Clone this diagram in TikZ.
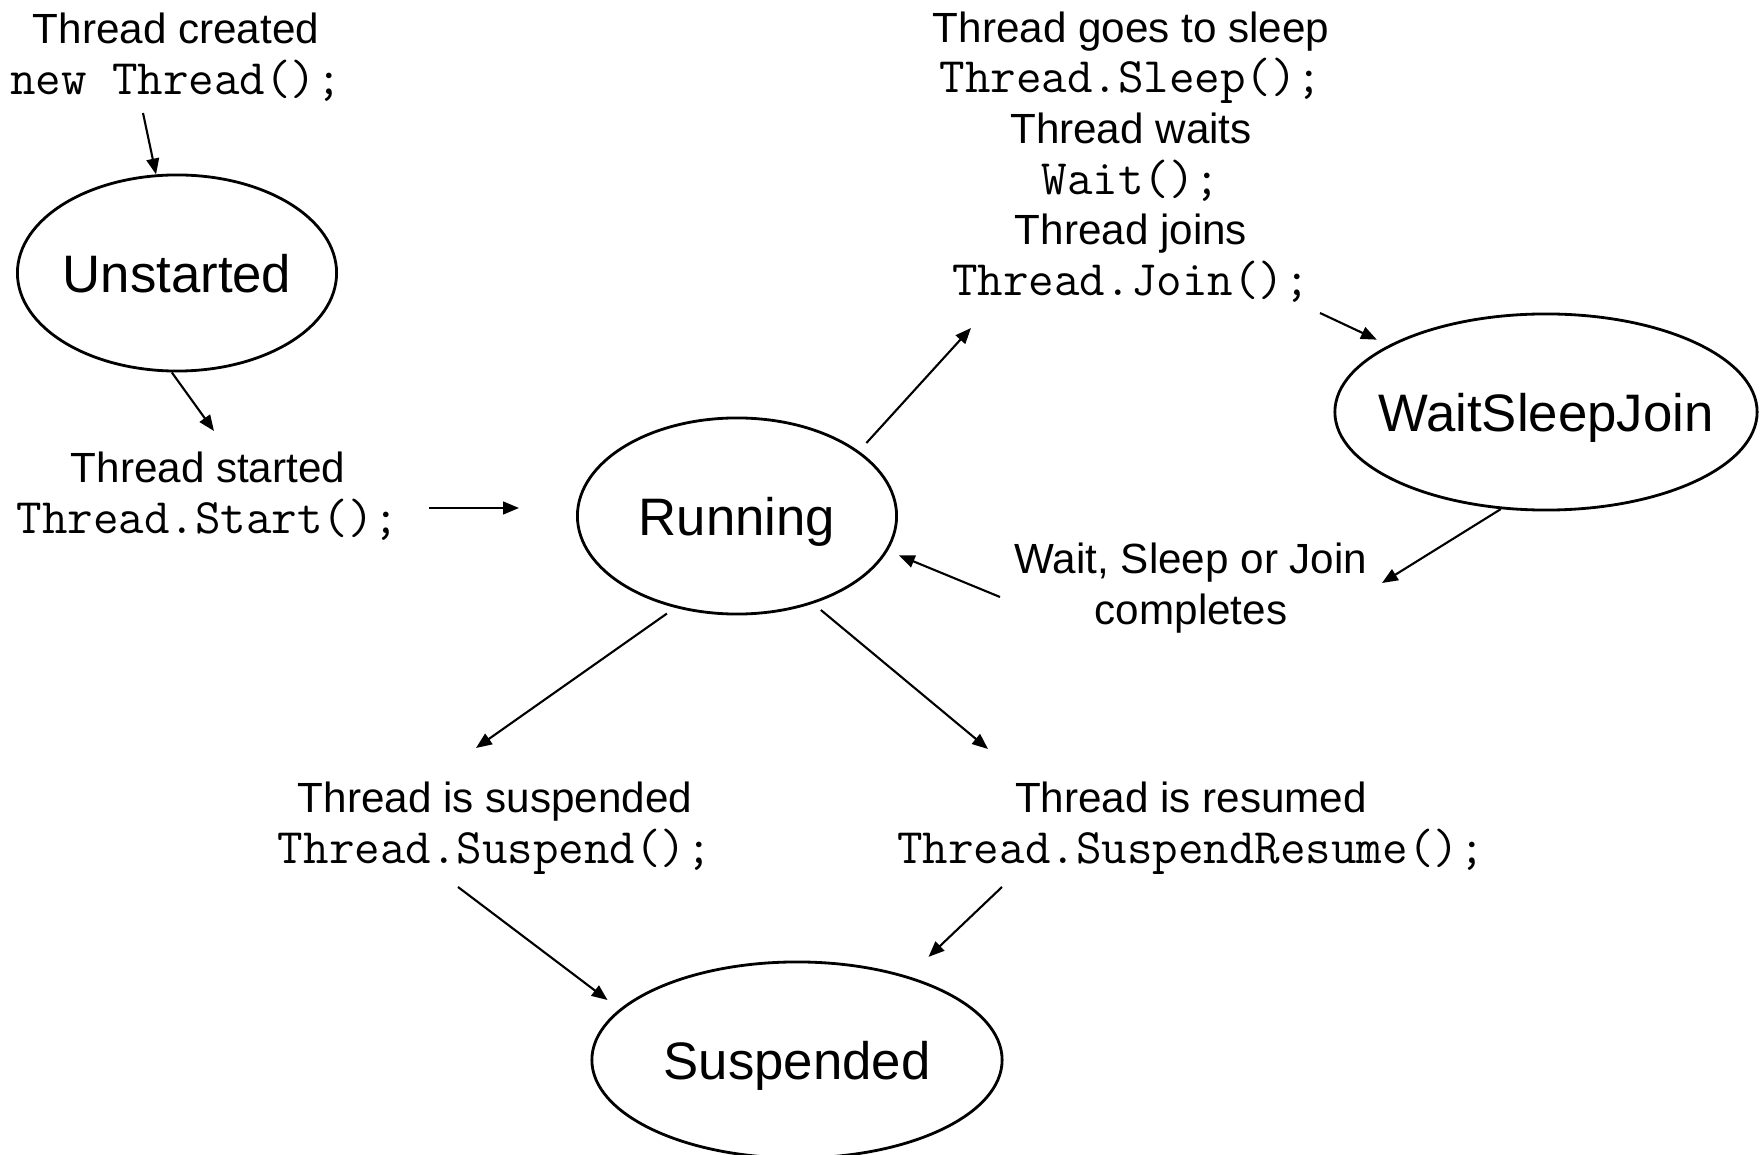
\documentclass[tikz,border=0pt]{standalone}
\usepackage{fontspec}
\setmainfont{Liberation Sans}
\usetikzlibrary{arrows.meta,shapes.geometric}
\newcommand\code[1]{{\fontsize{14.1}{14.4}\selectfont\ttfamily #1}}

\begin{document}
\begin{tikzpicture}[x=0.01cm,y=-0.01cm,
    state/.style={ellipse,draw,line width=0.8pt,inner sep=0pt,text height=11pt,text depth=0pt,
      minimum width=3.19cm,minimum height=1.96cm,font=\fontsize{15}{18}\selectfont},
    lbl/.style={align=center,inner sep=0pt,font=\fontsize{12}{14.4}\selectfont},
    arr/.style={-{Triangle[length=4.5pt,width=3.6pt]},line width=0.6pt}]
   \useasboundingbox (0,0) rectangle (1760,1155);
   % states
   \node[state] (unst) at (177,273) {\makebox[0pt]{Unstarted}};
   \node[state] (run) at (737,516) {\makebox[0pt]{Running}};
   \node[state,minimum width=4.22cm] (wsj) at (1546,412) {\makebox[0pt]{WaitSleepJoin}};
   \node[state,minimum width=4.1cm] (susp) at (797,1060) {\makebox[0pt]{Suspended}};
   % transitions
   \node[lbl] (created) at (176,57) {Thread created\\\code{new Thread();}};
   \node[lbl] (started) at (208,496) {Thread started\\\code{Thread.Start();}};
   \node[lbl] (sleep) at (1131,157) {Thread goes to sleep\\\code{Thread.Sleep();}\\
      Thread waits\\\code{Wait();}\\Thread joins\\\code{Thread.Join();}};
   \node[lbl] (compl) at (1191,588) {Wait, Sleep or Join\\completes};
   \node[lbl] (suspd) at (495,828) {Thread is suspended\\\code{Thread.Suspend();}};
   \node[lbl] (resmd) at (1191,828) {Thread is resumed\\\code{Thread.SuspendResume();}};
   \coordinate (c1) at (143,113);
   \coordinate (c2) at (214,431);
   \coordinate (c3) at (429,508);
   \coordinate (c4) at (519,508);
   \coordinate (c5) at (971,328);
   \coordinate (c6) at (1320,313);
   \coordinate (c7) at (1382,583);
   \coordinate (c8) at (1000,597);
   \coordinate (c10) at (476,748);
   \coordinate (c11) at (988,749);
   \coordinate (c12) at (458,887);
   \coordinate (c13) at (1002,887);
   \draw[arr] (c1) -- (unst.102);
   \draw[arr] (unst.-93) -- (c2);
   \draw[arr] (c3) -- (c4);
   \draw[arr,shorten <=1.1mm] (run.28) -- (c5);
   \draw[arr,shorten >=1.3mm] (c6) -- (wsj.157);
   \draw[arr] (wsj.-115) -- (c7);
   \draw[arr,shorten >=1.2mm] (c8) -- (run.-13);
   \draw[arr,shorten <=1mm] (run.-124) -- (c10);
   \draw[arr,shorten <=1mm] (run.-49) -- (c11);
   \draw[arr,shorten >=1.5mm] (c12) -- (susp.164);
   \draw[arr,shorten >=2.8mm] (c13) -- (susp.37);
\end{tikzpicture}
\end{document}
